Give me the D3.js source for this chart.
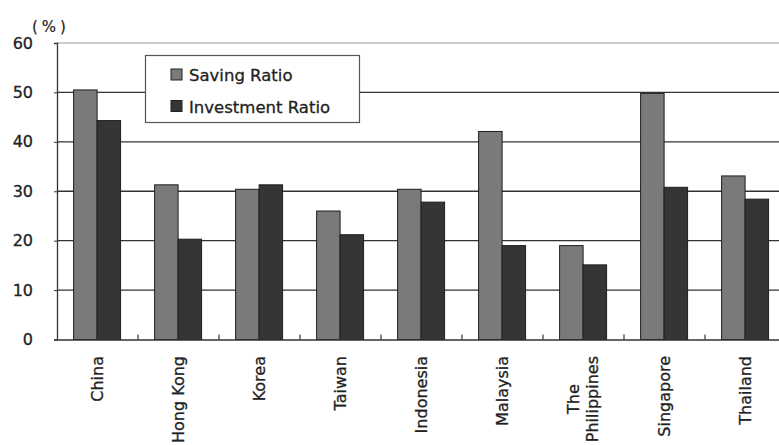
<!DOCTYPE html>
<html>
<head>
<meta charset="utf-8">
<script src="https://cdn.jsdelivr.net/npm/d3@7"></script>
<style>
html,body{margin:0;padding:0;background:#fff;}
svg{display:block;font-family:"DejaVu Sans",sans-serif;}
</style>
</head>
<body>
<svg id="chart" width="779" height="445"></svg>
<script>
const categories = ["China","Hong Kong","Korea","Taiwan","Indonesia","Malaysia","The Philippines","Singapore","Thailand"];
const seriesNames = ["Saving Ratio","Investment Ratio"];
const savingRatio = [50.5,31.3,30.4,26.0,30.4,42.1,19.0,49.8,33.1];
const investmentRatio = [44.3,20.3,31.3,21.2,27.8,19.0,15.1,30.8,28.4];
const yTicks = [0,10,20,30,40,50,60];
const yUnit = "(%)";

const colors = ["#7a7a7a","#353535"];
const textColor = "#222";
const svg = d3.select("#chart");

const x = d3.scaleBand().domain(categories).range([57, 786]).padding(0);
const bw = x.bandwidth();
const xs = d3.scaleBand().domain(seriesNames).range([bw*0.205, bw*0.785]).padding(0);
const y = d3.scaleLinear().domain([0,60]).range([339.5, 43]);

// gridlines
svg.append("g").selectAll("line").data(yTicks.filter(d=>d>0)).join("line")
  .attr("x1",57).attr("x2",779)
  .attr("y1",d=>y(d)).attr("y2",d=>y(d))
  .attr("stroke",d=>d===60?"#9a9a9a":"#333")
  .attr("stroke-width",d=>d===60?1.2:1.4);

// y axis
const yAxis = svg.append("g").attr("transform","translate(57,0)")
  .call(d3.axisLeft(y).tickValues(yTicks).tickSize(3).tickPadding(22).tickFormat(d3.format("d")));
yAxis.select(".domain").attr("stroke","#333").attr("stroke-width",1.3);
yAxis.selectAll(".tick line").attr("stroke","#333");
yAxis.selectAll(".tick text").attr("font-size","16px").attr("fill",textColor)
  .attr("stroke",textColor).attr("stroke-width",0.3)
  .attr("font-family","DejaVu Sans, sans-serif").attr("text-anchor","end").attr("x",-24);

svg.append("text").attr("x",32).attr("y",32).attr("font-size","15px").attr("fill",textColor)
  .attr("stroke",textColor).attr("stroke-width",0.2)
  .attr("letter-spacing","4px").text(yUnit);

// bars
const data = categories.map((c,i)=>({c, vals:[savingRatio[i], investmentRatio[i]]}));
const groups = svg.append("g").selectAll("g").data(data).join("g")
  .attr("transform",d=>`translate(${x(d.c)},0)`);
groups.selectAll("rect").data(d=>d.vals.map((v,j)=>({s:seriesNames[j],v,j}))).join("rect")
  .attr("x",d=>xs(d.s)).attr("width",xs.bandwidth())
  .attr("y",d=>y(d.v)).attr("height",d=>y(0)-y(d.v))
  .attr("fill",d=>colors[d.j]).attr("stroke","#1e1e1e").attr("stroke-width",1);

// x axis
const xAxis = svg.append("g").attr("transform",`translate(0,${y(0)})`)
  .call(d3.axisBottom(x).tickSize(0).tickFormat(""));
xAxis.select(".domain").attr("stroke","#333").attr("stroke-width",1.6);
svg.append("g").selectAll("line").data(categories.slice(1)).join("line")
  .attr("x1",d=>x(d)).attr("x2",d=>x(d))
  .attr("y1",y(0)).attr("y2",y(0)-5)
  .attr("stroke","#333").attr("stroke-width",1.2);

// category labels (rotated, multi-line centered)
const labTop = 356;
categories.forEach(c=>{
  const cx = x(c) + bw/2;
  const words = c === "The Philippines" ? ["The","Philippines"] : [c];
  const lineH = 19;
  const g = svg.append("g");
  const texts = words.map((w,k)=>{
    const lx = cx + (k - (words.length-1)/2)*lineH + 5;
    return g.append("text").attr("transform",`translate(${lx},${labTop}) rotate(-90)`)
      .attr("font-size","16px").attr("fill",textColor)
      .attr("stroke",textColor).attr("stroke-width",0.3).text(w);
  });
  const lens = texts.map(t=>t.node().getComputedTextLength());
  const maxL = d3.max(lens);
  texts.forEach(t=>{
    t.attr("text-anchor","middle").attr("x", -(maxL/2));
  });
});

// legend
const lg = svg.append("g");
lg.append("rect").attr("x",145.5).attr("y",55.5).attr("width",214).attr("height",67)
  .attr("fill","#fff").attr("stroke","#555").attr("stroke-width",1.2);
seriesNames.forEach((s,i)=>{
  const yy = 69 + i*31.5;
  lg.append("rect").attr("x",171).attr("y",yy).attr("width",11).attr("height",11)
    .attr("fill",colors[i]).attr("stroke","#222").attr("stroke-width",1);
  lg.append("text").attr("x",189).attr("y",yy+12).attr("font-size","16.5px")
    .attr("fill",textColor).attr("stroke",textColor).attr("stroke-width",0.3).text(s);
});
</script>
</body>
</html>
